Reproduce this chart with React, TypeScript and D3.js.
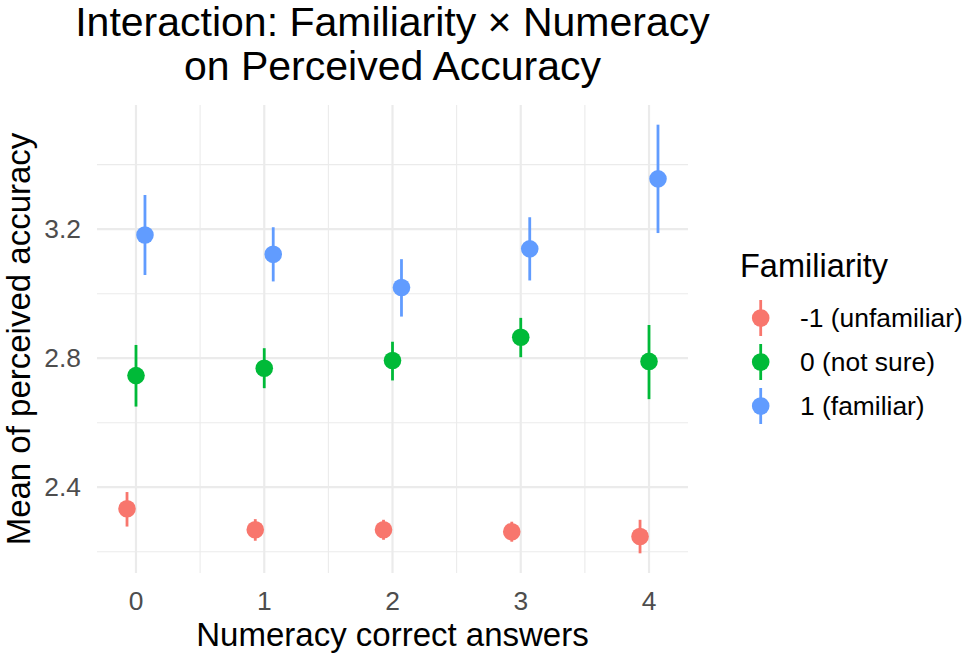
import React from "react";
import * as d3 from "d3";

const numeracy = [0, 1, 2, 3, 4];
const xTicks = [0, 1, 2, 3, 4];
const yTicks = [2.4, 2.8, 3.2];
const yMinor = [2.2, 2.6, 3.0, 3.4];
const groups = ["-1 (unfamiliar)", "0 (not sure)", "1 (familiar)"];
const colors = ["#F8766D", "#00BA38", "#619CFF"];

const meanUnfamiliar = [2.333, 2.268, 2.268, 2.262, 2.247];
const lowUnfamiliar = [2.278, 2.234, 2.237, 2.231, 2.195];
const highUnfamiliar = [2.385, 2.301, 2.299, 2.293, 2.299];

const meanNotSure = [2.746, 2.769, 2.793, 2.865, 2.79];
const lowNotSure = [2.65, 2.707, 2.731, 2.803, 2.673];
const highNotSure = [2.841, 2.831, 2.851, 2.925, 2.903];

const meanFamiliar = [3.182, 3.122, 3.019, 3.139, 3.356];
const lowFamiliar = [3.058, 3.038, 2.929, 3.041, 3.188];
const highFamiliar = [3.306, 3.206, 3.107, 3.237, 3.524];

const series = [
  { mean: meanUnfamiliar, low: lowUnfamiliar, high: highUnfamiliar },
  { mean: meanNotSure, low: lowNotSure, high: highNotSure },
  { mean: meanFamiliar, low: lowFamiliar, high: highFamiliar },
];

const W = 967;
const H = 660;
const panel = { left: 97, right: 688, top: 105, bottom: 573 };
const FONT = "'Liberation Sans', Arial, Helvetica, sans-serif";

export default function App() {
  const x = d3.scaleLinear().domain([-0.304, 4.304]).range([panel.left, panel.right]);
  const y = d3.scaleLinear().domain([2.134, 3.585]).range([panel.bottom, panel.top]);
  const dodge = 0.07;
  const xMinor = [0.5, 1.5, 2.5, 3.5];
  const legendY = [318, 362, 406];

  return (
    <svg
      width={W}
      height={H}
      style={{ position: "fixed", left: 0, top: 0, background: "#fff" }}
      fontFamily={FONT}
    >
      <rect x={0} y={0} width={W} height={H} fill="#fff" />
      {/* minor gridlines */}
      {yMinor.map((v) => (
        <line key={"ym" + v} x1={panel.left} x2={panel.right} y1={y(v)} y2={y(v)} stroke="#EBEBEB" strokeWidth={1.1} />
      ))}
      {xMinor.map((v) => (
        <line key={"xm" + v} x1={x(v)} x2={x(v)} y1={panel.top} y2={panel.bottom} stroke="#EBEBEB" strokeWidth={1.1} />
      ))}
      {/* major gridlines */}
      {yTicks.map((v) => (
        <line key={"y" + v} x1={panel.left} x2={panel.right} y1={y(v)} y2={y(v)} stroke="#EBEBEB" strokeWidth={2.2} />
      ))}
      {xTicks.map((v) => (
        <line key={"x" + v} x1={x(v)} x2={x(v)} y1={panel.top} y2={panel.bottom} stroke="#EBEBEB" strokeWidth={2.2} />
      ))}

      {/* data */}
      {series.map((s, gi) => {
        const off = (gi - 1) * dodge;
        return (
          <g key={gi}>
            {numeracy.map((n, i) => (
              <g key={i}>
                <line
                  x1={x(n + off)}
                  x2={x(n + off)}
                  y1={y(s.low[i])}
                  y2={y(s.high[i])}
                  stroke={colors[gi]}
                  strokeWidth={2.8}
                />
                <circle cx={x(n + off)} cy={y(s.mean[i])} r={8.8} fill={colors[gi]} />
              </g>
            ))}
          </g>
        );
      })}

      {/* y tick labels */}
      {yTicks.map((v) => (
        <text
          key={"yl" + v}
          x={81}
          y={y(v)}
          textAnchor="end"
          dominantBaseline="central"
          fontSize={26.4}
          fill="#4D4D4D"
        >
          {d3.format(".1f")(v)}
        </text>
      ))}
      {/* x tick labels */}
      {xTicks.map((v) => (
        <text key={"xl" + v} x={x(v)} y={610} textAnchor="middle" fontSize={26.4} fill="#4D4D4D">
          {v}
        </text>
      ))}

      {/* axis titles */}
      <text x={(panel.left + panel.right) / 2} y={646} textAnchor="middle" fontSize={33} fill="#000">
        Numeracy correct answers
      </text>
      <text
        transform={`translate(30, ${(panel.top + panel.bottom) / 2}) rotate(-90)`}
        textAnchor="middle"
        fontSize={33}
        fill="#000"
      >
        Mean of perceived accuracy
      </text>

      {/* title */}
      <text x={(panel.left + panel.right) / 2} y={36} textAnchor="middle" fontSize={41} fill="#000">
        Interaction: Familiarity × Numeracy
      </text>
      <text x={(panel.left + panel.right) / 2} y={80} textAnchor="middle" fontSize={41} fill="#000">
        on Perceived Accuracy
      </text>

      {/* legend */}
      <text x={740} y={277} fontSize={32.5} fill="#000">
        Familiarity
      </text>
      {groups.map((g, gi) => (
        <g key={g}>
          <line x1={760.7} x2={760.7} y1={legendY[gi] - 18} y2={legendY[gi] + 18} stroke={colors[gi]} strokeWidth={2.8} />
          <circle cx={760.7} cy={legendY[gi]} r={8.8} fill={colors[gi]} />
          <text x={800} y={legendY[gi]} dominantBaseline="central" fontSize={26.4} fill="#000">
            {g}
          </text>
        </g>
      ))}
    </svg>
  );
}
